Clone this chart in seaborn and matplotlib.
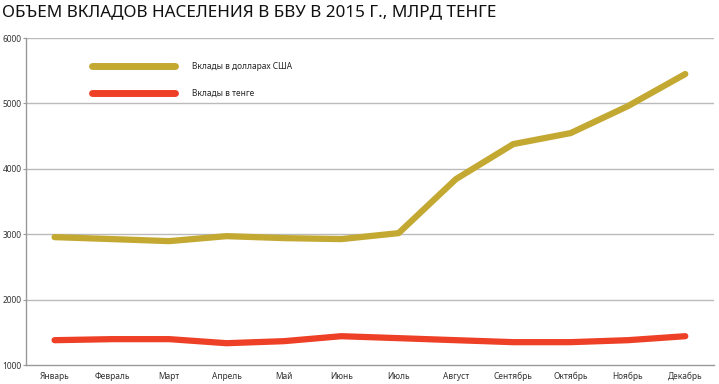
import matplotlib
matplotlib.use("Agg")
import matplotlib.pyplot as plt
import seaborn as sns
import pandas as pd

months = ["Январь", "Февраль", "Март", "Апрель", "Май", "Июнь",
          "Июль", "Август", "Сентябрь", "Октябрь", "Ноябрь", "Декабрь"]
usd_deposits = [2957, 2927, 2896, 2972, 2942, 2927, 3018, 3844, 4379, 4547, 4960, 5450]
kzt_deposits = [1382, 1398, 1398, 1336, 1367, 1443, 1413, 1382, 1352, 1352, 1382, 1443]
series_names = ["Вклады в долларах США", "Вклады в тенге"]
y_ticks = [1000, 2000, 3000, 4000, 5000, 6000]

df = pd.DataFrame({
    "month": list(range(len(months))) * 2,
    "value": usd_deposits + kzt_deposits,
    "series": [series_names[0]] * len(months) + [series_names[1]] * len(months),
})

sns.set_theme(style="white")
plt.rcParams["font.family"] = ["Noto Sans", "DejaVu Sans"]

fig = plt.figure(figsize=(7.19, 3.84), dpi=100)
ax = fig.add_axes([0.036, 0.049, 0.957, 0.852])

palette = {series_names[0]: "#C3A832", series_names[1]: "#EE4026"}
sns.lineplot(data=df, x="month", y="value", hue="series", palette=palette,
             linewidth=4.5, ax=ax, solid_capstyle="round")

ax.set_xlim(-0.5, len(months) - 0.5)
ax.set_ylim(1000, 6000)
ax.set_yticks(y_ticks)
ax.set_yticklabels([str(t) for t in y_ticks], fontsize=6, color="#333333")
ax.set_xticks(range(len(months)))
ax.set_xticklabels(months, fontsize=6, color="#333333")
ax.set_xticks([i + 0.5 for i in range(len(months) - 1)], minor=True)
ax.tick_params(axis="x", which="major", length=0, pad=5)
ax.tick_params(axis="x", which="minor", direction="in", length=6, width=0.8, color="#999999")
ax.tick_params(axis="y", which="major", direction="out", length=2, width=0.8, color="#999999", pad=1, left=True)
ax.set_xlabel("")
ax.set_ylabel("")

for t in y_ticks[1:]:
    ax.axhline(t, color="#bbbbbb", linewidth=1, zorder=0)

for side in ["top", "right"]:
    ax.spines[side].set_visible(False)
for side in ["left", "bottom"]:
    ax.spines[side].set_color("#999999")
    ax.spines[side].set_linewidth(1)

leg = ax.legend(loc="upper left", bbox_to_anchor=(0.085, 0.95), frameon=False,
                fontsize=6, handlelength=10, handletextpad=2, labelspacing=2.2)
for line in leg.get_lines():
    line.set_linewidth(5)
    line.set_solid_capstyle("round")

fig.text(0.003, 0.99, "ОБЪЕМ ВКЛАДОВ НАСЕЛЕНИЯ В БВУ В 2015 Г., МЛРД ТЕНГЕ",
         fontsize=12.3, va="top", ha="left", color="#111111")

fig.savefig("out.png", dpi=100)
